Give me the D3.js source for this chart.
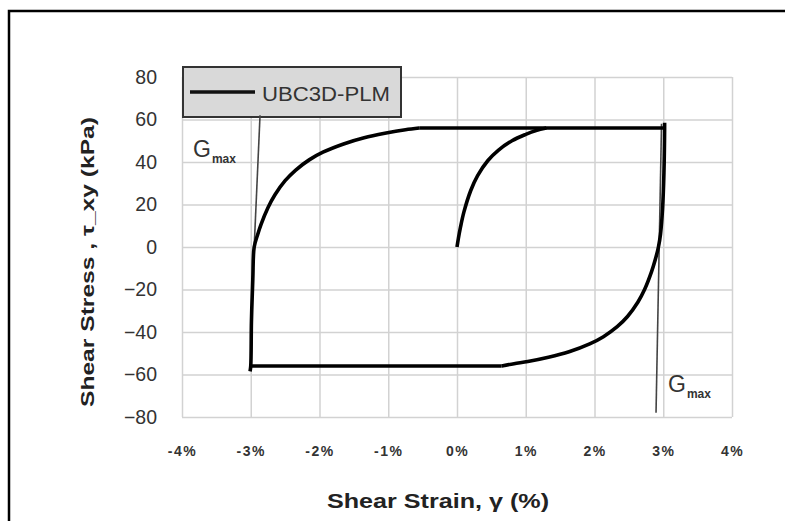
<!DOCTYPE html>
<html>
<head>
<meta charset="utf-8">
<script src="https://cdn.jsdelivr.net/npm/d3@7"></script>
<style>
  html, body { margin: 0; padding: 0; background: #fff; overflow: hidden; }
  svg { display: block; }
  text { font-family: "Liberation Sans", Arial, sans-serif; }
</style>
</head>
<body>
<svg id="chart" width="785" height="521"></svg>
<script>
// Axis ticks
const strainTicks = [-4, -3, -2, -1, 0, 1, 2, 3, 4];          // shear strain, %
const stressTicks = [-80, -60, -40, -20, 0, 20, 40, 60, 80];  // shear stress, kPa

// UBC3D-PLM response, [strain %, stress kPa], one array per branch
const initialLoading = [
  [0, 0], [0.02, 4.0], [0.05, 9.2], [0.1, 16.4], [0.2, 26.6], [0.3, 33.6],
  [0.45, 40.7], [0.6, 45.5], [0.8, 50.0], [1.0, 53.0], [1.15, 54.8], [1.3, 56]
];
const upperPlateau = [[-0.55, 56], [3.02, 56]];
const unloading = [
  [3.02, 58.5], [3.02, 56], [3.01, 35], [2.99, 18], [2.96, 6], [2.93, 0],
  [2.88, -6.4], [2.83, -11.6], [2.73, -19.9], [2.63, -26.0], [2.48, -32.7],
  [2.33, -37.5], [2.13, -42.2], [1.93, -45.6], [1.63, -49.3], [1.33, -51.9],
  [1.03, -53.9], [0.83, -54.9], [0.65, -56]
];
const lowerPlateau = [[0.65, -56], [-3.0, -56]];
const reloading = [
  [-3.01, -58.5], [-3.0, -56], [-2.99, -35], [-2.97, -15], [-2.95, 0],
  [-2.90, 5.8], [-2.85, 10.7], [-2.75, 18.5], [-2.65, 24.5], [-2.50, 31.2],
  [-2.35, 36.1], [-2.15, 41.0], [-1.95, 44.6], [-1.65, 48.5], [-1.35, 51.4],
  [-1.05, 53.5], [-0.75, 55.2], [-0.55, 56]
];
const responseBranches = [initialLoading, upperPlateau, unloading, lowerPlateau, reloading];

// Initial-stiffness (Gmax) reference lines
const gmaxLeft = [[-2.95, 0], [-2.865, 62]];
const gmaxRight = [[2.895, -78], [2.975, 58]];

const seriesName = "UBC3D-PLM";

const svg = d3.select("#chart");

// Outer frame (top and left edges)
svg.append("path")
  .attr("d", "M9,530 V11 H800")
  .attr("fill", "none").attr("stroke", "#000").attr("stroke-width", 2.5);

const x = d3.scaleLinear().domain([-4, 4]).range([182, 732]);
const y = d3.scaleLinear().domain([-80, 80]).range([417, 77]);
const plotW = x.range()[1] - x.range()[0];
const plotH = y.range()[0] - y.range()[1];

// X axis with vertical gridlines
const gx = svg.append("g")
  .attr("transform", `translate(0,${y.range()[0]})`)
  .call(d3.axisBottom(x).tickValues(strainTicks).tickSize(-plotH).tickPadding(29)
    .tickFormat(d => d + "%"));
gx.select(".domain").remove();
gx.selectAll("line").attr("stroke", "#d2d2d2").attr("stroke-width", 1.5);
gx.selectAll("text")
  .attr("fill", "#333").attr("font-size", 14).attr("font-weight", "bold")
  .attr("letter-spacing", 1.5);

// Y axis with horizontal gridlines
const gy = svg.append("g")
  .attr("transform", `translate(${x.range()[0]},0)`)
  .call(d3.axisLeft(y).tickValues(stressTicks).tickSize(-plotW).tickPadding(25));
gy.select(".domain").remove();
gy.selectAll("line").attr("stroke", "#d2d2d2").attr("stroke-width", 1.5);
gy.selectAll("text").attr("fill", "#333").attr("font-size", 19.5);

// Axis titles
svg.append("text")
  .attr("transform", "translate(94,262) rotate(-90)")
  .attr("text-anchor", "middle")
  .attr("font-size", 18).attr("font-weight", "bold").attr("fill", "#222")
  .attr("textLength", 290).attr("lengthAdjust", "spacingAndGlyphs")
  .text("Shear Stress , τ_xy (kPa)");

svg.append("text")
  .attr("x", 438).attr("y", 508)
  .attr("text-anchor", "middle")
  .attr("font-size", 20).attr("font-weight", "bold").attr("fill", "#222")
  .attr("textLength", 222).attr("lengthAdjust", "spacingAndGlyphs")
  .text("Shear Strain, γ (%)");

// Legend
const lg = svg.append("g");
lg.append("rect")
  .attr("x", 183).attr("y", 67).attr("width", 218).attr("height", 50)
  .attr("fill", "#d9d9d9").attr("stroke", "#333").attr("stroke-width", 2);
lg.append("line")
  .attr("x1", 190).attr("x2", 255).attr("y1", 92).attr("y2", 92)
  .attr("stroke", "#111").attr("stroke-width", 3.5);
lg.append("text")
  .attr("x", 262).attr("y", 101)
  .attr("font-size", 20).attr("fill", "#333")
  .attr("textLength", 128).attr("lengthAdjust", "spacingAndGlyphs")
  .text(seriesName);

// Gmax reference lines
const line = d3.line().x(d => x(d[0])).y(d => y(d[1]));
[gmaxLeft, gmaxRight].forEach(g => {
  svg.append("path").attr("d", line(g))
    .attr("fill", "none").attr("stroke", "#444").attr("stroke-width", 1.6);
});

// Gmax labels
function gmaxLabel(px, py) {
  const t = svg.append("text").attr("x", px).attr("y", py).attr("fill", "#333");
  t.append("tspan").attr("font-size", 23).text("G");
  t.append("tspan").attr("font-size", 12).attr("font-weight", "bold")
    .attr("dx", 1).attr("dy", 6).text("max");
}
gmaxLabel(193, 157);
gmaxLabel(668, 392);

// Stress-strain response
const curve = d3.line()
  .x(d => x(d[0])).y(d => y(d[1]))
  .curve(d3.curveCatmullRom.alpha(0.5));
svg.append("g").selectAll("path")
  .data(responseBranches)
  .join("path")
  .attr("d", curve)
  .attr("fill", "none")
  .attr("stroke", "#000")
  .attr("stroke-width", 3.6)
  .attr("stroke-linejoin", "round")
  .attr("stroke-linecap", "butt");
</script>
</body>
</html>
